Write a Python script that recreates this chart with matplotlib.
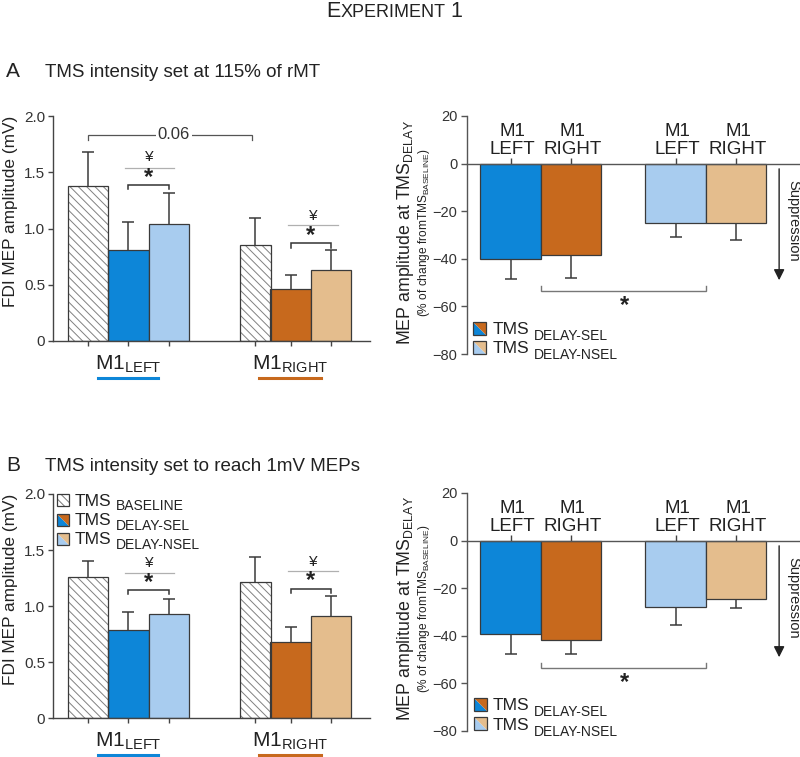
import matplotlib
matplotlib.use('Agg')
import matplotlib.pyplot as plt
from matplotlib.patches import Polygon, Rectangle
from matplotlib.lines import Line2D

plt.rcParams['font.family'] = ['Liberation Sans', 'DejaVu Sans']
plt.rcParams['mathtext.fontset'] = 'custom'
plt.rcParams['mathtext.rm'] = 'Liberation Sans'
plt.rcParams['mathtext.it'] = 'Liberation Sans:italic'
plt.rcParams['mathtext.bf'] = 'Liberation Sans:bold'
plt.rcParams['hatch.linewidth'] = 0.7

# ---------------- data ----------------
hemispheres = ['LEFT', 'RIGHT']
conditions = ['BASELINE', 'DELAY-SEL', 'DELAY-NSEL']

# Panel A (TMS at 115% rMT) - FDI MEP amplitude (mV), order [M1 left, M1 right]
a_base = [1.38, 0.85]
a_base_err = [0.30, 0.24]
a_sel = [0.81, 0.46]
a_sel_err = [0.25, 0.13]
a_nsel = [1.04, 0.63]
a_nsel_err = [0.28, 0.18]
# Panel A - % change from baseline
a_chg_sel = [-40.1, -38.4]
a_chg_sel_err = [8.4, 9.6]
a_chg_nsel = [-25.1, -25.1]
a_chg_nsel_err = [5.8, 6.9]

# Panel B (TMS to reach 1mV MEPs)
b_base = [1.26, 1.21]
b_base_err = [0.14, 0.23]
b_sel = [0.79, 0.675]
b_sel_err = [0.155, 0.135]
b_nsel = [0.925, 0.91]
b_nsel_err = [0.14, 0.18]
b_chg_sel = [-39.2, -41.7]
b_chg_sel_err = [8.4, 5.9]
b_chg_nsel = [-28.0, -24.5]
b_chg_nsel_err = [7.4, 3.8]

yticks_left = [0, 0.5, 1.0, 1.5, 2.0]
yticklabels_left = ['0', '0.5', '1.0', '1.5', '2.0']
yticks_right = [20, 0, -20, -40, -60, -80]

# ---------------- style ----------------
BLUE = '#0d86d8'
LBLUE = '#a8ccef'
ORANGE = '#c7691d'
TAN = '#e4bd8d'
EDGE = '#3a3a3a'
TXT = '#222222'

W, H = 800, 757
fig = plt.figure(figsize=(W / 100, H / 100), dpi=100)


def fx(x):
    return x / W


def fy(y):
    return 1 - y / H


def axes_px(x0, ytop, x1, ybot):
    return fig.add_axes([fx(x0), fy(ybot), (x1 - x0) / W, (ybot - ytop) / H])


renderer = fig.canvas.get_renderer()


def seq_text(x_px, y_px, parts, color=TXT):
    """parts: list of (text, size, dy_px, gap_px). y_px is baseline."""
    x = x_px
    for s, size, dy, gap in parts:
        x += gap
        t = fig.text(fx(x), fy(y_px + dy), s, fontsize=size, va='baseline',
                     ha='left', color=color)
        bb = t.get_window_extent(renderer)
        x = bb.x1


def legend_patch(x0, y0, size, kind, c1=None, c2=None):
    x1, y1 = x0 + size, y0 + size
    if kind == 'hatch':
        fig.add_artist(Rectangle((fx(x0), fy(y1)), size / W, size / H,
                                 transform=fig.transFigure, facecolor='white',
                                 edgecolor='#777777', hatch='\\\\\\\\', lw=0))
    else:
        fig.add_artist(Polygon([(fx(x0), fy(y0)), (fx(x0), fy(y1)), (fx(x1), fy(y1))],
                               closed=True, transform=fig.transFigure,
                               facecolor=c1, edgecolor='none'))
        fig.add_artist(Polygon([(fx(x0), fy(y0)), (fx(x1), fy(y0)), (fx(x1), fy(y1))],
                               closed=True, transform=fig.transFigure,
                               facecolor=c2, edgecolor='none'))
    fig.add_artist(Rectangle((fx(x0), fy(y1)), size / W, size / H,
                             transform=fig.transFigure, fill=False,
                             edgecolor=EDGE, lw=0.9))


def legend_block(xp, ytop, row_h, size, items, tms_x, sub_dy):
    for i, (kind, c1, c2, sub) in enumerate(items):
        yy = ytop + i * row_h
        legend_patch(xp, yy, size, kind, c1, c2)
        seq_text(tms_x, yy + size - 0.5, [('TMS', 12.5, 0, 0), (sub, 10, sub_dy, 4)])


def bracket(ax, x0, x1, y, drop, color, lw=1.0):
    ax.plot([x0, x0, x1, x1], [y - drop, y, y, y - drop], color=color, lw=lw,
            solid_joinstyle='miter', clip_on=False)


def draw_left(ax, base, base_err, sel, sel_err, nsel, nsel_err, sig, show_006):
    base_x = [0, 4.13]
    base_w = [1, 0.77]
    sel_x = [1, 5]
    nsel_x = [2, 6]
    sel_c = [BLUE, ORANGE]
    nsel_c = [LBLUE, TAN]
    ek = dict(fmt='none', ecolor=EDGE, elinewidth=1.1, capsize=4.5, capthick=1.1, zorder=1)
    for i in range(2):
        ax.errorbar(base_x[i], base[i], yerr=base_err[i], **ek)
        ax.errorbar(sel_x[i], sel[i], yerr=sel_err[i], **ek)
        ax.errorbar(nsel_x[i], nsel[i], yerr=nsel_err[i], **ek)
        ax.bar(base_x[i], base[i], width=base_w[i], color='white', edgecolor='#808080',
               hatch='\\\\\\\\', lw=0, zorder=2)
        ax.bar(base_x[i], base[i], width=base_w[i], fill=False, edgecolor=EDGE, lw=0.9, zorder=3)
        ax.bar(sel_x[i], sel[i], width=1, color=sel_c[i], edgecolor=EDGE, lw=0.9, zorder=2)
        ax.bar(nsel_x[i], nsel[i], width=1, color=nsel_c[i], edgecolor=EDGE, lw=0.9, zorder=2)
    ax.set_xlim(-0.86, 6.96)
    ax.set_ylim(0, 2.0)
    ax.set_yticks(yticks_left)
    ax.set_yticklabels(yticklabels_left)
    ax.set_xticks(base_x + sel_x + nsel_x)
    ax.set_xticklabels([])
    for s in ['top', 'right']:
        ax.spines[s].set_visible(False)
    for s in ['left', 'bottom']:
        ax.spines[s].set_color('#444444')
        ax.spines[s].set_linewidth(1.0)
    ax.tick_params(axis='y', direction='out', length=3.5, width=1, color='#444444',
                   labelsize=11, labelcolor='#333333', pad=2)
    ax.tick_params(axis='x', direction='out', length=3.5, width=1, color='#444444')
    # significance marks
    for (gx0, gx1, sx0, sx1, yen, yst, ystar, yline) in sig:
        ax.plot([gx0, gx1], [yen, yen], color='#b0b0b0', lw=0.9, clip_on=False)
        ax.text((gx0 + gx1) / 2, yline, '¥', ha='center', va='center', fontsize=11, color=TXT)
        bracket(ax, sx0, sx1, yst, 0.04, '#333333', 1.1)
        ax.text((sx0 + sx1) / 2, ystar, '*', ha='center', va='center', fontsize=17,
                color=TXT, fontweight='bold')
    if show_006:
        bracket(ax, 0, 4.05, 1.834, 0.045, '#555555', 0.9)
        ax.text(2.12, 1.834, '0.06', ha='center', va='center', fontsize=12, color='#333333',
                bbox=dict(facecolor='white', edgecolor='none', pad=1.5))
    # x group labels with coloured underlines
    tr = ax.get_xaxis_transform()
    labels = [(1.0, r'M1$_{\mathrm{LEFT}}$', BLUE, 0.24, 1.72),
              (5.0, r'M1$_{\mathrm{RIGHT}}$', ORANGE, 4.22, 5.75)]
    for x, lab, col, u0, u1 in labels:
        ax.text(x, -0.105, lab, transform=tr, ha='center', va='center', fontsize=15, color=TXT)
        ax.add_line(Line2D([u0, u1], [-0.165, -0.165], transform=tr, color=col, lw=2.2,
                           clip_on=False))


def draw_right(ax, sel, sel_err, nsel, nsel_err):
    xs = [0, 1, 2.73, 3.73]
    vals = [sel[0], sel[1], nsel[0], nsel[1]]
    errs = [sel_err[0], sel_err[1], nsel_err[0], nsel_err[1]]
    cols = [BLUE, ORANGE, LBLUE, TAN]
    labs = ['M1\nLEFT', 'M1\nRIGHT', 'M1\nLEFT', 'M1\nRIGHT']
    ax.errorbar(xs, vals, yerr=errs, fmt='none', ecolor=EDGE, elinewidth=1.1, capsize=4.5,
                capthick=1.1, zorder=1)
    ax.bar(xs, vals, width=1, color=cols, edgecolor=EDGE, lw=0.9, zorder=2)
    ax.set_xlim(-0.72, 4.785)
    ax.set_ylim(-80, 20)
    ax.set_yticks(yticks_right)
    ax.set_xticks(xs)
    ax.set_xticklabels([])
    ax.spines['top'].set_visible(False)
    ax.spines['right'].set_visible(False)
    ax.spines['bottom'].set_position(('data', 0))
    ax.spines['bottom'].set_zorder(4)
    for s in ['left', 'bottom']:
        ax.spines[s].set_color('#555555')
        ax.spines[s].set_linewidth(1.0)
    ax.tick_params(axis='y', direction='out', length=4, width=1, color='#555555',
                   labelsize=10.5, labelcolor='#333333', pad=3)
    ax.tick_params(axis='x', direction='in', length=4, width=1, color='#444444')
    for x, lab in zip(xs, labs):
        ax.annotate(lab, xy=(x + 0.03, 0), xytext=(0, 4), textcoords='offset points',
                    ha='center', va='bottom', fontsize=13.5, linespacing=1.05, color=TXT)
    bracket(ax, 0.5, 3.23, -53.5, -2.0, '#777777', 1.0)
    ax.text(1.88, -59.5, '*', ha='center', va='center', fontsize=17, color=TXT,
            fontweight='bold')
    ax.annotate('', xy=(4.44, -49), xytext=(4.44, -2.2),
                arrowprops=dict(arrowstyle='-|>', color='#222222', lw=1.0,
                                mutation_scale=16, shrinkA=0, shrinkB=0))
    ax.text(4.68, -24, 'Suppression', rotation=-90, ha='center', va='center',
            fontsize=10.5, color=TXT)


# ---------------- panels ----------------
axA1 = axes_px(53, 116, 370, 341)
draw_left(axA1, a_base, a_base_err, a_sel, a_sel_err, a_nsel, a_nsel_err,
          [(0.92, 2.12, 1, 2, 1.54, 1.39, 1.452, 1.636),
           (4.94, 6.17, 5, 6, 1.028, 0.87, 0.939, 1.108)], True)

axB1 = axes_px(53, 494, 370, 718)
draw_left(axB1, b_base, b_base_err, b_sel, b_sel_err, b_nsel, b_nsel_err,
          [(0.92, 2.12, 1, 2, 1.293, 1.144, 1.21, 1.382),
           (4.94, 6.17, 5, 6, 1.313, 1.156, 1.224, 1.397)], False)

axA2 = axes_px(467, 116, 800, 354)
draw_right(axA2, a_chg_sel, a_chg_sel_err, a_chg_nsel, a_chg_nsel_err)

axB2 = axes_px(467, 493, 800, 731)
draw_right(axB2, b_chg_sel, b_chg_sel_err, b_chg_nsel, b_chg_nsel_err)

# y labels
for ycen in [211, 589]:
    fig.text(fx(11), fy(ycen), 'FDI MEP amplitude (mV)', rotation=90, ha='center',
             va='center', fontsize=12.4, color=TXT)
for ycen in [232, 608]:
    fig.text(fx(405), fy(ycen), r'MEP amplitude at TMS$_{\mathrm{DELAY}}$', rotation=90,
             ha='center', va='center', fontsize=12.8, color=TXT)
    fig.text(fx(424.5), fy(ycen + 1), r'(% of change fromTMS$_{\mathrm{BASELINE}}$)',
             rotation=90, ha='center', va='center', fontsize=8.6, color=TXT)

# legends
legend_block(473, 322, 18.5, 13, [('split', BLUE, ORANGE, 'DELAY-SEL'),
                                  ('split', LBLUE, TAN, 'DELAY-NSEL')], 493, 6)
legend_block(474, 698, 19, 13, [('split', BLUE, ORANGE, 'DELAY-SEL'),
                                ('split', LBLUE, TAN, 'DELAY-NSEL')], 493, 6)
legend_block(57, 494, 19.5, 12, [('hatch', None, None, 'BASELINE'),
                                 ('split', BLUE, ORANGE, 'DELAY-SEL'),
                                 ('split', LBLUE, TAN, 'DELAY-NSEL')], 75, 4.5)

# titles
seq_text(326, 17, [('E', 15.5, 0, 0), ('XPERIMENT', 13, 0, 0.5), ('1', 15.5, 0, 5)])
fig.text(fx(6), fy(77), 'A', fontsize=15, va='baseline', ha='left', color=TXT)
fig.text(fx(45), fy(77), 'TMS intensity set at 115% of rMT', fontsize=13.5,
         va='baseline', ha='left', color=TXT)
fig.text(fx(6), fy(471), 'B', fontsize=15, va='baseline', ha='left', color=TXT)
fig.text(fx(45), fy(471), 'TMS intensity set to reach 1mV MEPs', fontsize=13.5,
         va='baseline', ha='left', color=TXT)

fig.savefig('out.png', dpi=100)
